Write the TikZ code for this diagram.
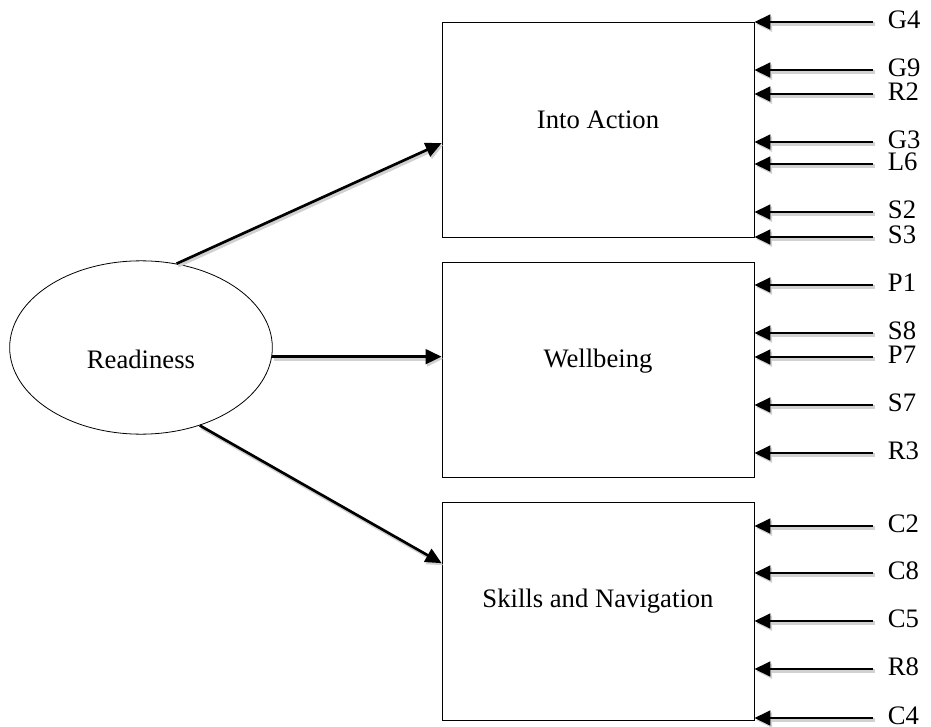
\documentclass[tikz,border=0pt]{standalone}
\usepackage{fontspec}
\setmainfont{Liberation Serif}
\usetikzlibrary{arrows.meta,shapes.geometric,calc}
\tikzset{
  box/.style={draw, line width=0.6pt, minimum width=234pt, inner sep=0pt},
  latent/.style={draw, ellipse, line width=0.6pt, minimum width=197pt,
                 minimum height=130pt, inner sep=0pt},
  txt/.style={font=\fontsize{20}{24}\selectfont, inner sep=0pt},
  item/.style={font=\fontsize{20}{24}\selectfont, anchor=west,
               text height=13.2pt, text depth=3.5pt,
               inner xsep=11pt, inner ysep=0pt},
  shade/.style={preaction={draw=black!18, line width=2.6pt,
                transform canvas={shift={(1.2pt,-1.6pt)}}}},
  link/.style={shade, -{Triangle[length=12pt,width=11pt]}, line width=2pt},
  inlink/.style={shade, -{Triangle[length=12pt,width=11pt]}, line width=2pt}
}
\begin{document}
\begin{tikzpicture}[x=0.75pt,y=-0.75pt]
  \useasboundingbox (0,0) rectangle (931,727);

  \node[latent] (rd) at (141,347.5) {};
  \node[txt, anchor=base] (rdt) at (141,368) {Readiness};

  \node[box, minimum height=161.25pt] (ia) at (598,129.5) {};
  \node[box, minimum height=161.25pt] (wb) at (598,369.5) {};
  \node[box, minimum height=163.5pt] (sn) at (598,611) {};
  \node[txt, anchor=base] (iat) at (598,129) {Into Action};
  \node[txt, anchor=base] (wbt) at (598,367) {Wellbeing};
  \node[txt, anchor=base] (snt) at (598,607) {Skills and Navigation};

  \draw[link] (rd.67) -- (ia.185);
  \draw[link] (rd.-4.5) -- (rd.-4.5 -| wb.west);
  \draw[link] (rd.-53) -- (sn.163);

  \foreach \nm/\y in {G4/22, G9/70, R2/94, G3/142, L6/164, S2/212, S3/237} {
    \node[item] (i\nm) at (873,\y) {\nm};
    \draw[inlink] (i\nm.west) -- (i\nm.west -| ia.east);
  }
  \foreach \nm/\y in {P1/285, S8/333, P7/357, S7/405, R3/453} {
    \node[item] (w\nm) at (873,\y) {\nm};
    \draw[inlink] (w\nm.west) -- (w\nm.west -| wb.east);
  }
  \foreach \nm/\y in {C2/526, C8/573, C5/621, R8/669, C4/718} {
    \node[item] (s\nm) at (873,\y) {\nm};
    \draw[inlink] (s\nm.west) -- (s\nm.west -| sn.east);
  }
\end{tikzpicture}
\end{document}
